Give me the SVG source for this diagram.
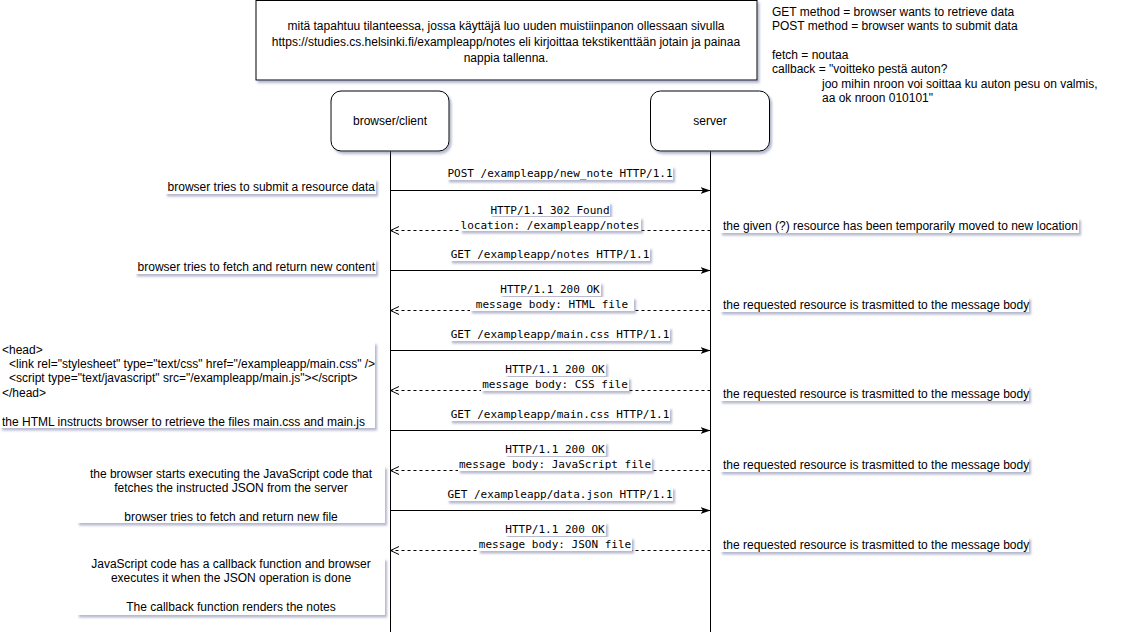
<svg xmlns="http://www.w3.org/2000/svg" width="1131" height="643" viewBox="0 0 1131 643">
<style>
.t{font-family:"Liberation Sans",Arial,sans-serif;font-size:12px;fill:#000}
.m{font-family:"DejaVu Sans Mono",monospace;font-size:11px;fill:#000}
.c{text-anchor:middle}
.bg{fill:#fff;filter:url(#sh)}
.box{fill:#fff;stroke:#000;stroke-width:1;filter:url(#sh)}
.ll{stroke:#000;stroke-width:1;fill:none}
.req{stroke:#000;stroke-width:1;fill:none;marker-end:url(#fill)}
.ret{stroke:#000;stroke-width:1;fill:none;stroke-dasharray:3 3;marker-end:url(#open)}
</style>
<defs>
<filter id="sh" x="-5%" y="-20%" width="115%" height="160%">
<feDropShadow dx="2" dy="2.5" stdDeviation="1" flood-color="#5a6494" flood-opacity="0.45"/>
</filter>
<marker id="fill" viewBox="0 0 10 10" refX="10" refY="5" markerWidth="10" markerHeight="10" markerUnits="userSpaceOnUse" orient="auto">
<path d="M0,1.5 L10,5 L0,8.5 L2.5,5 Z" fill="#000"/>
</marker>
<marker id="open" viewBox="0 0 10 10" refX="9.5" refY="5" markerWidth="10" markerHeight="10" markerUnits="userSpaceOnUse" orient="auto">
<path d="M1,1 L9.5,5 L1,9" fill="none" stroke="#000" stroke-width="1"/>
</marker>
</defs>
<rect width="1131" height="643" fill="#fff"/>

<g id="question">
<rect class="box" x="256" y="0.5" width="501" height="79.5"/>
<text class="t c" x="506" y="30">mitä tapahtuu tilanteessa, jossa käyttäjä luo uuden muistiinpanon ollessaan sivulla</text>
<text class="t c" x="506" y="46">https://studies.cs.helsinki.fi/exampleapp/notes eli kirjoittaa tekstikenttään jotain ja painaa</text>
<text class="t c" x="506" y="61.5">nappia tallenna.</text>
</g>

<g id="notes">
<text class="t" x="772" y="16">GET method = browser wants to retrieve data</text>
<text class="t" x="772" y="30.4">POST method = browser wants to submit data</text>
<text class="t" x="772" y="59">fetch = noutaa</text>
<text class="t" x="772" y="73.4">callback = "voitteko pestä auton?</text>
<text class="t" x="822" y="87.8">joo mihin nroon voi soittaa ku auton pesu on valmis,</text>
<text class="t" x="822" y="102.2">aa ok nroon 010101"</text>
</g>

<g id="browser">
<line class="ll" x1="390.5" y1="151" x2="390.5" y2="632"/>
<rect class="box" x="331" y="91" width="118" height="60" rx="10"/>
<text class="t c" x="390" y="125">browser/client</text>
</g>

<g id="server">
<line class="ll" x1="710.5" y1="151" x2="710.5" y2="632"/>
<rect class="box" x="650.5" y="91" width="119" height="60" rx="10"/>
<text class="t c" x="710" y="125">server</text>
</g>

<g id="connectors">
<line class="req" x1="390.5" y1="190.5" x2="710.5" y2="190.5"/>
<line class="ret" x1="710.5" y1="230.5" x2="390.5" y2="230.5"/>
<line class="req" x1="390.5" y1="270.5" x2="710.5" y2="270.5"/>
<line class="ret" x1="710.5" y1="310.5" x2="390.5" y2="310.5"/>
<line class="req" x1="390.5" y1="350.5" x2="710.5" y2="350.5"/>
<line class="ret" x1="710.5" y1="390.5" x2="390.5" y2="390.5"/>
<line class="req" x1="390.5" y1="430.5" x2="710.5" y2="430.5"/>
<line class="ret" x1="710.5" y1="470.5" x2="390.5" y2="470.5"/>
<line class="req" x1="390.5" y1="510.5" x2="710.5" y2="510.5"/>
<line class="ret" x1="710.5" y1="550.5" x2="390.5" y2="550.5"/>
</g>

<g id="msg-labels">
<rect class="bg" x="447" y="166" width="226" height="14"/>
<text class="m c" x="560" y="177">POST /exampleapp/new_note HTTP/1.1</text>

<rect class="bg" x="490" y="202" width="120" height="14"/>
<rect class="bg" x="460" y="217" width="181" height="14"/>
<text class="m c" x="550" y="213.5">HTTP/1.1 302 Found</text>
<text class="m c" x="550" y="228.5">location: /exampleapp/notes</text>

<rect class="bg" x="450" y="247" width="200" height="14"/>
<text class="m c" x="550" y="258">GET /exampleapp/notes HTTP/1.1</text>

<rect class="bg" x="500" y="282" width="101" height="14"/>
<rect class="bg" x="470" y="297" width="164" height="14"/>
<text class="m c" x="550" y="293">HTTP/1.1 200 OK</text>
<text class="m c" x="552" y="308">message body: HTML file</text>

<rect class="bg" x="450" y="327" width="220" height="14"/>
<text class="m c" x="560" y="338">GET /exampleapp/main.css HTTP/1.1</text>

<rect class="bg" x="505" y="362" width="101" height="14"/>
<rect class="bg" x="481" y="377" width="148" height="14"/>
<text class="m c" x="555" y="373">HTTP/1.1 200 OK</text>
<text class="m c" x="555" y="388">message body: CSS file</text>

<rect class="bg" x="450" y="407" width="220" height="14"/>
<text class="m c" x="560" y="418">GET /exampleapp/main.css HTTP/1.1</text>

<rect class="bg" x="505" y="442" width="101" height="14"/>
<rect class="bg" x="458" y="457" width="194" height="14"/>
<text class="m c" x="555" y="453">HTTP/1.1 200 OK</text>
<text class="m c" x="555" y="468">message body: JavaScript file</text>

<rect class="bg" x="447" y="487" width="226" height="14"/>
<text class="m c" x="560" y="498">GET /exampleapp/data.json HTTP/1.1</text>

<rect class="bg" x="505" y="522" width="101" height="14"/>
<rect class="bg" x="478" y="537" width="154" height="14"/>
<text class="m c" x="555" y="533">HTTP/1.1 200 OK</text>
<text class="m c" x="555" y="547.5">message body: JSON file</text>
</g>

<g id="left-notes">
<rect class="bg" x="165" y="179" width="211" height="15"/>
<text class="t" x="375" y="190.5" text-anchor="end">browser tries to submit a resource data</text>

<rect class="bg" x="135" y="259" width="241" height="15"/>
<text class="t" x="375" y="270.5" text-anchor="end">browser tries to fetch and return new content</text>

<rect class="bg" x="0" y="342" width="375" height="86"/>
<text class="t" x="2" y="353.5">&lt;head&gt;</text>
<text class="t" x="9" y="367.9">&lt;link rel="stylesheet" type="text/css" href="/exampleapp/main.css" /&gt;</text>
<text class="t" x="9" y="382.3">&lt;script type="text/javascript" src="/exampleapp/main.js"&gt;&lt;/script&gt;</text>
<text class="t" x="2" y="396.7">&lt;/head&gt;</text>
<text class="t" x="2" y="425.5">the HTML instructs browser to retrieve the files main.css and main.js</text>

<rect class="bg" x="77" y="466" width="308" height="57"/>
<text class="t c" x="231" y="478">the browser starts executing the JavaScript code that</text>
<text class="t c" x="231" y="492.4">fetches the instructed JSON from the server</text>
<text class="t c" x="231" y="521.2">browser tries to fetch and return new file</text>

<rect class="bg" x="77" y="558" width="308" height="57"/>
<text class="t c" x="231" y="568">JavaScript code has a callback function and browser</text>
<text class="t c" x="231" y="582.4">executes it when the JSON operation is done</text>
<text class="t c" x="231" y="611.2">The callback function renders the notes</text>
</g>

<g id="right-notes">
<rect class="bg" x="720" y="218" width="359" height="15"/>
<text class="t" x="723" y="229.5">the given (?) resource has been temporarily moved to new location</text>
<rect class="bg" x="720" y="297" width="309" height="15"/>
<text class="t" x="723" y="308.5">the requested resource is trasmitted to the message body</text>
<rect class="bg" x="720" y="386" width="309" height="15"/>
<text class="t" x="723" y="397.5">the requested resource is trasmitted to the message body</text>
<rect class="bg" x="720" y="457" width="309" height="15"/>
<text class="t" x="723" y="468.5">the requested resource is trasmitted to the message body</text>
<rect class="bg" x="720" y="537" width="309" height="15"/>
<text class="t" x="723" y="548.5">the requested resource is trasmitted to the message body</text>
</g>
</svg>
